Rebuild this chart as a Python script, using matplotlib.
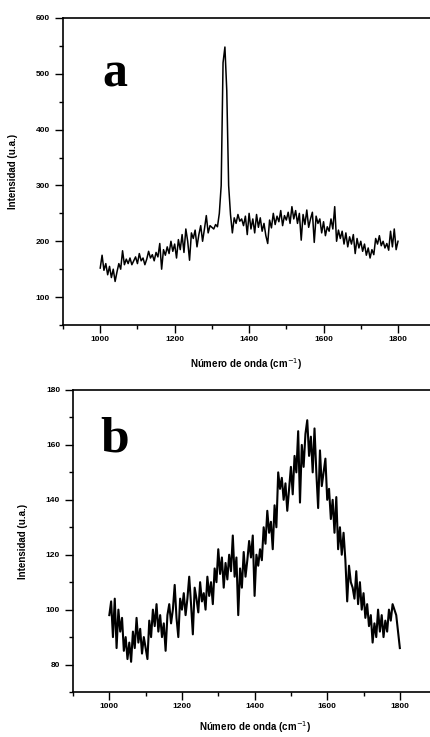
import numpy as np
import matplotlib
matplotlib.use('Agg')
import matplotlib.pyplot as plt
from matplotlib.ticker import MultipleLocator

plt.rcParams['font.family'] = ['Liberation Sans', 'DejaVu Sans']

# Espectro a (1000-1800 cm-1, paso 5)
ya = [152, 175, 148, 160, 140, 155, 135, 150, 128, 145,
      160, 150, 183, 158, 168, 160, 170, 158, 165, 172,
      160, 178, 165, 170, 158, 168, 182, 170, 176, 165,
      180, 172, 196, 150, 185, 175, 190, 178, 200, 182,
      195, 170, 203, 185, 212, 180, 222, 200, 166, 215,
      205, 220, 190, 212, 228, 200, 222, 246, 215, 228,
      225, 222, 230, 226, 250, 300, 520, 548, 470, 300,
      248, 215, 242, 232, 248, 236, 240, 228, 245, 212,
      250, 222, 240, 215, 248, 225, 242, 218, 232, 210,
      196, 238, 224, 250, 230, 245, 235, 255, 228, 246,
      238, 252, 232, 262, 240, 255, 232, 250, 202, 248,
      230, 256, 225, 240, 252, 198, 245, 232, 240, 215,
      235, 210, 226, 218, 240, 222, 262, 200, 220, 205,
      218, 195, 215, 190, 208, 195, 212, 178, 205, 188,
      200, 182, 195, 175, 188, 170, 185, 176, 205, 195,
      210, 192, 200, 188, 196, 184, 218, 190, 222, 185,
      200]

# Espectro b (1000-1800 cm-1, paso 5)
yb = [98, 103, 90, 104, 86, 100, 92, 97, 85, 90,
      82, 88, 81, 92, 86, 97, 88, 93, 84, 90,
      86, 82, 96, 90, 100, 94, 102, 92, 98, 90,
      95, 85, 98, 102, 95, 100, 109, 97, 90, 104,
      100, 106, 98, 104, 112, 102, 91, 108, 104, 99,
      110, 103, 106, 100, 112, 105, 110, 102, 115, 110,
      122, 113, 119, 108, 117, 111, 120, 114, 127, 112,
      119, 98, 115, 108, 121, 112, 118, 125, 119, 127,
      105, 120, 116, 122, 118, 130, 124, 136, 128, 132,
      122, 138, 130, 150, 144, 148, 140, 146, 136, 144,
      152, 142, 156, 150, 165, 139, 160, 152, 164, 169,
      156, 163, 150, 166, 150, 137, 158, 145, 150, 155,
      140, 144, 133, 140, 128, 141, 122, 130, 120, 128,
      118, 103, 116, 110, 108, 104, 114, 102, 110, 100,
      106, 97, 102, 94, 98, 88, 95, 90, 100, 92,
      98, 90, 96, 92, 100, 96, 102, 100, 98, 92,
      86]

xa = np.linspace(1000, 1800, len(ya))
xb = np.linspace(1000, 1800, len(yb))

xlabel = u'Número de onda (cm$^{-1}$)'
ylabel = 'Intensidad (u.a.)'

fig = plt.figure(figsize=(4.30, 7.37), dpi=100)
ax1 = fig.add_axes([63/430, 1-325/737, 1-63/430, 307/737])
ax2 = fig.add_axes([73/430, 1-692/737, 1-73/430, 302/737])

def style(ax, ymaj, ymin):
    ax.spines['right'].set_visible(False)
    for s in ['left', 'top', 'bottom']:
        ax.spines[s].set_linewidth(1.2)
    ax.xaxis.set_major_locator(MultipleLocator(200))
    ax.xaxis.set_minor_locator(MultipleLocator(100))
    ax.yaxis.set_major_locator(MultipleLocator(ymaj))
    ax.yaxis.set_minor_locator(MultipleLocator(ymin))
    ax.tick_params(which='major', direction='out', length=5.8, width=1.0,
                   labelsize=6, pad=1.8, top=False, right=False)
    ax.tick_params(which='minor', direction='out', length=2.9, width=1.0,
                   top=False, right=False)
    ax.tick_params(axis='y', which='major', pad=3.5)
    for lab in ax.get_xticklabels() + ax.get_yticklabels():
        lab.set_fontweight('bold')
    ax.set_xlabel(xlabel, fontsize=7, fontweight='bold')
    ax.set_ylabel(ylabel, fontsize=7, fontweight='bold')

ax1.plot(xa, ya, color='black', lw=1.1)
ax1.set_xlim(900, 1886)
ax1.set_ylim(50, 600)
style(ax1, 100, 50)
ax1.xaxis.set_label_coords(0.5, -0.1)
ax1.yaxis.set_label_coords(-0.1226, 0.5)
ax1.text(1040, 498, 'a', fontsize=36, fontweight='bold',
         family='Liberation Serif', ha='center', va='center')

ax2.plot(xb, yb, color='black', lw=1.5)
ax2.set_xlim(900, 1883)
ax2.set_ylim(70, 180)
style(ax2, 20, 10)
ax2.xaxis.set_label_coords(0.51, -0.09)
ax2.yaxis.set_label_coords(-0.126, 0.5)
ax2.text(1015, 162, 'b', fontsize=37, fontweight='bold',
         family='Liberation Serif', ha='center', va='center')

fig.savefig('out.png', dpi=100)
